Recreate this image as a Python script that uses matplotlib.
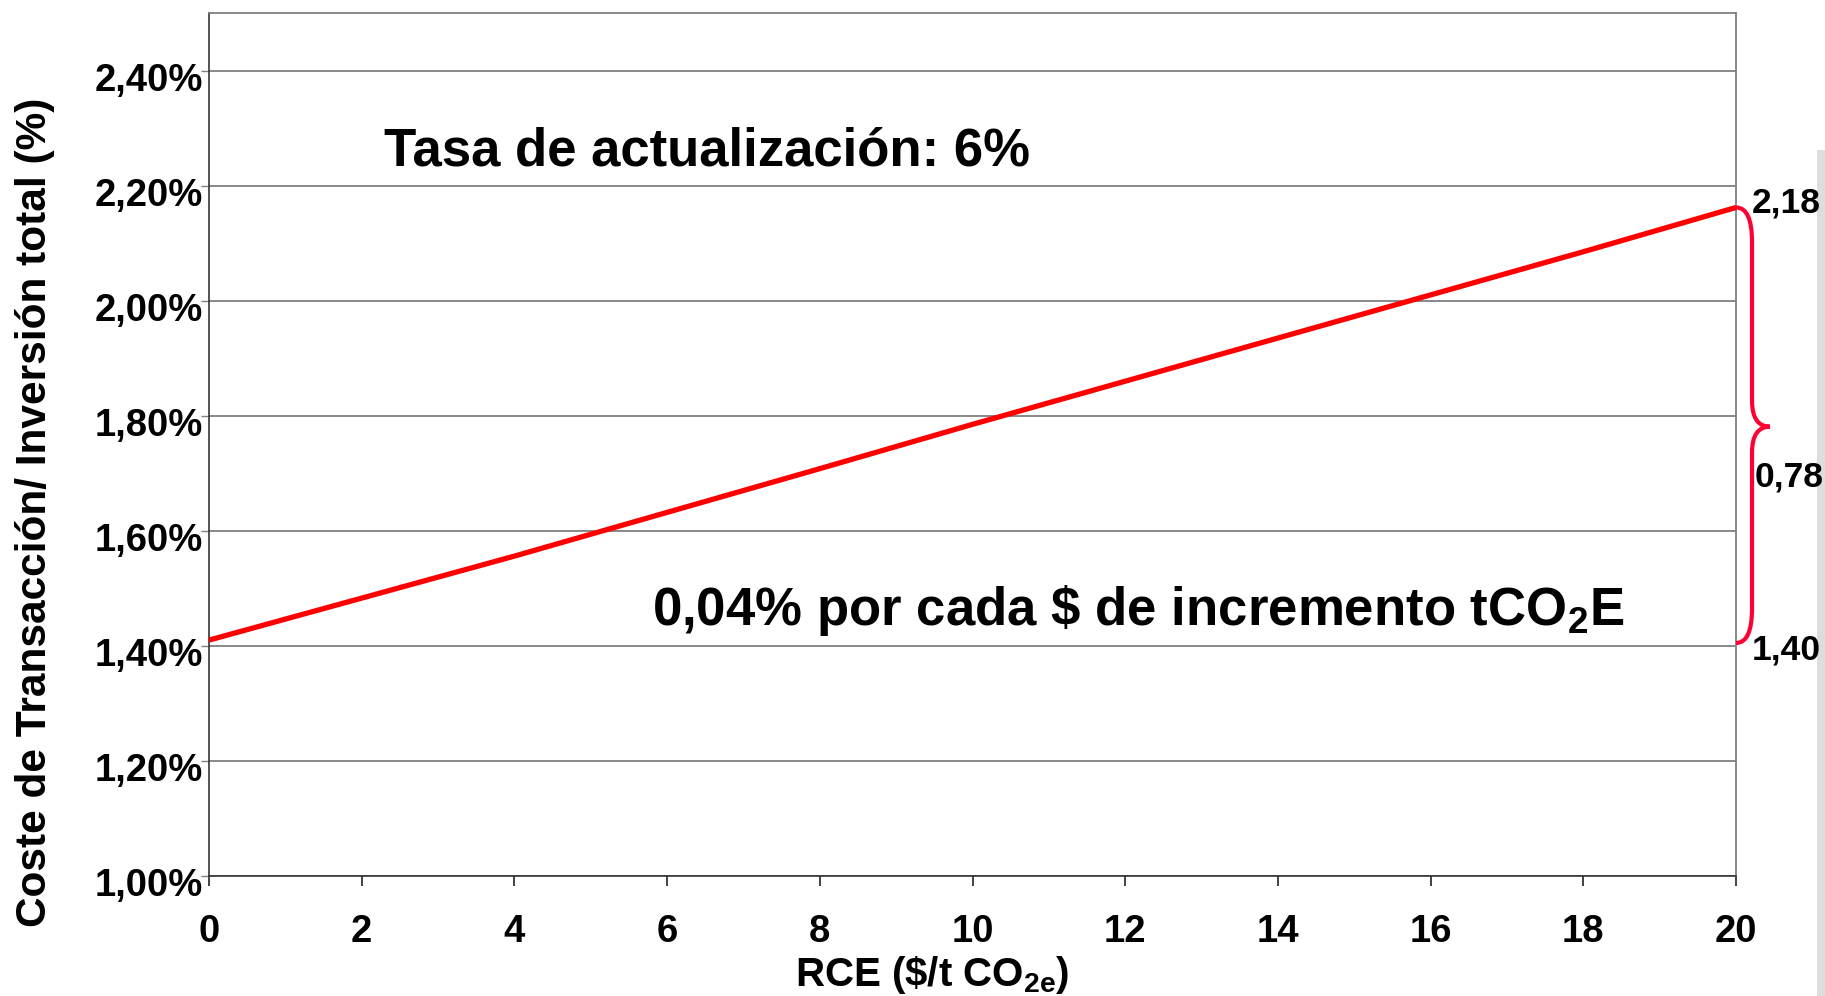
import matplotlib
matplotlib.use('Agg')
import matplotlib.pyplot as plt
from matplotlib.path import Path
from matplotlib.patches import PathPatch, Rectangle
from matplotlib.ticker import FuncFormatter
import matplotlib.transforms as mtransforms

plt.rcParams['font.family'] = ['Liberation Sans', 'DejaVu Sans']
plt.rcParams['font.weight'] = 'bold'
plt.rcParams['mathtext.fontset'] = 'custom'
plt.rcParams['mathtext.rm'] = 'Liberation Sans:bold'
plt.rcParams['mathtext.bf'] = 'Liberation Sans:bold'
plt.rcParams['mathtext.it'] = 'Liberation Sans:bold'

# Data
rce = [0, 2, 4, 6, 8, 10, 12, 14, 16, 18, 20]
coste = [1.41, 1.483, 1.556, 1.632, 1.708, 1.785, 1.86, 1.935, 2.01, 2.085, 2.162]
y_ticks = [1.00, 1.20, 1.40, 1.60, 1.80, 2.00, 2.20, 2.40]
x_ticks = [0, 2, 4, 6, 8, 10, 12, 14, 16, 18, 20]
brace_top = 2.162
brace_mid = 1.781
brace_bot = 1.405
brace_labels = ['2,18', '0,78', '1,40']

W, H = 1825, 996
fig = plt.figure(figsize=(W / 100, H / 100), dpi=100)

# grey strip at the right edge (behind everything)
fig.patches.append(Rectangle((1817 / W, 0), 8 / W, 1 - 150 / H, transform=fig.transFigure,
                             fc='#dddddd', ec='none', zorder=-1))

ax = fig.add_axes([209 / W, 1 - 876 / H, (1736 - 209) / W, (876 - 13) / H])
ax.patch.set_alpha(0)

ax.plot(rce, coste, color='#ff0000', lw=3.8, solid_capstyle='butt', zorder=3, clip_on=False)

ax.set_xlim(0, 20)
ax.set_ylim(1.0, 2.5)
ax.set_xticks(x_ticks)
ax.set_yticks(y_ticks)
ax.yaxis.set_major_formatter(FuncFormatter(lambda v, p: f"{v:.2f}%".replace('.', ',')))
ax.grid(axis='y', color='#808080', lw=1.3)
ax.set_axisbelow(True)

for s in ['top', 'right']:
    ax.spines[s].set_color('#808080')
    ax.spines[s].set_linewidth(1.3)
for s in ['left', 'bottom']:
    ax.spines[s].set_color('#333333')
    ax.spines[s].set_linewidth(1.2)

ax.tick_params(axis='y', length=6, width=1, color='#808080', pad=-1.5, labelsize=27.5)
ax.tick_params(axis='x', length=7, width=1.2, color='#222222', pad=20, labelsize=27.5)

# shift y tick labels slightly downward like the original
off = mtransforms.ScaledTranslation(0, -6 / 100, fig.dpi_scale_trans)
for lab in ax.get_yticklabels():
    lab.set_transform(lab.get_transform() + off)

# curly brace on the right
xa, xb, xc = 20.0, 20.21, 20.445
verts = [
    (xa, brace_top), (xb, brace_top), (xb, brace_top - 0.06),
    (xb, brace_mid + 0.045),
    (xb, brace_mid), (xc, brace_mid),
    (xb, brace_mid), (xb, brace_mid - 0.045),
    (xb, brace_bot + 0.06),
    (xb, brace_bot), (xa, brace_bot),
]
codes = [Path.MOVETO, Path.CURVE3, Path.CURVE3, Path.LINETO,
         Path.CURVE3, Path.CURVE3, Path.CURVE3, Path.CURVE3,
         Path.LINETO, Path.CURVE3, Path.CURVE3]
ax.add_patch(PathPatch(Path(verts, codes), fill=False, ec='#ff0033', lw=3, clip_on=False, zorder=4))

ax.text(20.21, 2.170, brace_labels[0], fontsize=25.5, fontweight='bold', va='center', ha='left', clip_on=False, zorder=5)
ax.text(20.24, 1.694, brace_labels[1], fontsize=25.5, fontweight='bold', va='center', ha='left', clip_on=False, zorder=5)
ax.text(20.21, 1.393, brace_labels[2], fontsize=25.5, fontweight='bold', va='center', ha='left', clip_on=False, zorder=5)

# annotations
ax.text(2.29, 1 + (876 - 166) / 575, 'Tasa de actualización: 6%', fontsize=38, fontweight='bold',
        ha='left', va='baseline')
ax.text(5.80, 1 + (876 - 625) / 575, r'0,04% por cada \$ de incremento tCO$_2$E', fontsize=38,
        fontweight='bold', ha='left', va='baseline')

fig.text(35 / W, 1 - 512 / H, 'Coste de Transacción/ Inversión total (%)', rotation=90,
         fontsize=30.5, fontweight='bold', ha='center', va='center')
fig.text(932 / W, 1 - 975 / H, r'RCE (\$/t CO$_{2e}$)', fontsize=29, fontweight='bold',
         ha='center', va='center')

fig.savefig('out.png', dpi=100)
